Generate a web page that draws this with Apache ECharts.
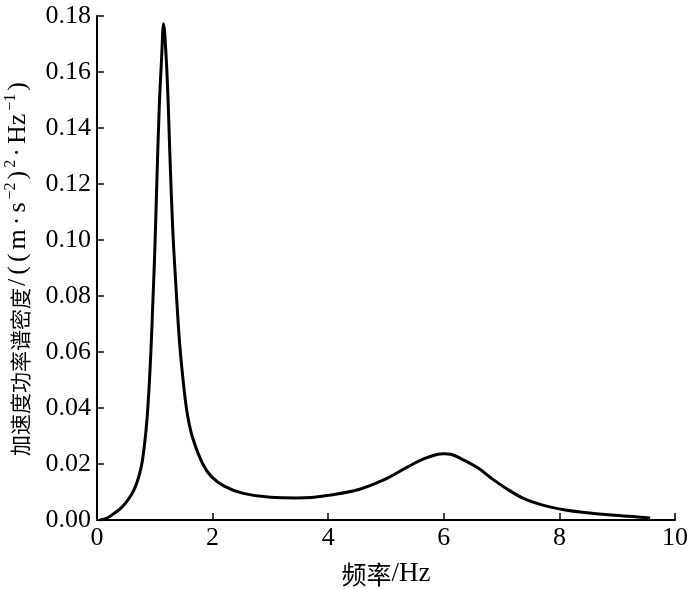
<!DOCTYPE html>
<html>
<head>
<meta charset="utf-8">
<script src="https://cdn.jsdelivr.net/npm/echarts@6/dist/echarts.min.js"></script>
<style>html,body{margin:0;padding:0;background:#fff}#c{width:700px;height:589px}</style>
</head>
<body>
<div id="c"></div>
<script>
// Frequency (Hz)
var freq = [0.05,0.10,0.20,0.30,0.40,0.50,0.60,0.67,0.73,0.78,0.825,0.865,0.90,0.934,0.969,1.003,1.04,1.078,1.118,1.152,1.20,1.233,1.26,1.31,1.37,1.43,1.51,1.57,1.66,1.83,1.98,2.20,2.53,3.00,3.45,3.70,4.00,4.50,4.96,5.36,5.65,5.88,6.00,6.12,6.29,6.60,6.85,7.10,7.35,7.60,7.85,8.10,8.40,8.90,9.40,9.57];
// Acceleration PSD
var psd = [0.0000,0.0002,0.0010,0.0024,0.0040,0.0062,0.0092,0.0122,0.0160,0.0205,0.0275,0.0360,0.0470,0.0610,0.0790,0.0980,0.1240,0.1480,0.1650,0.1772,0.1640,0.1480,0.1310,0.1040,0.0820,0.0630,0.0460,0.0370,0.0290,0.0200,0.0155,0.0121,0.0095,0.0081,0.0079,0.0080,0.0088,0.0107,0.0143,0.0188,0.0218,0.0234,0.0237,0.0235,0.0220,0.0185,0.0145,0.0110,0.0080,0.0060,0.0046,0.0036,0.0028,0.0018,0.0010,0.0007];
var xTicks = [0,2,4,6,8,10];
var yTicks = [0,0.02,0.04,0.06,0.08,0.10,0.12,0.14,0.16,0.18];

var serif = '"Liberation Serif","Times New Roman","Noto Sans CJK SC",serif';
var cjk = '"Noto Sans CJK SC",sans-serif';
var chart = echarts.init(document.getElementById('c'));
var pts = freq.map(function(f,i){return [f, psd[i]];});
var lat = {fontFamily:serif,fontSize:26,color:'#000',lineHeight:28,verticalAlign:'bottom',padding:[0,2,0,2]};
var sup = {fontFamily:serif,fontSize:16,color:'#000',lineHeight:28,verticalAlign:'top',padding:[0,1,0,1]};
chart.setOption({
  animation:false,
  grid:{left:97,right:25,top:16,bottom:69,containLabel:false,outerBoundsMode:'none'},
  xAxis:{
    type:'value',min:0,max:10,interval:2,
    name:'{c|频率}{a|/Hz}',nameLocation:'middle',nameGap:40,
    nameTextStyle:{fontFamily:serif,fontSize:24,color:'#000',
      rich:{c:{fontFamily:cjk,fontSize:25,color:'#000',lineHeight:28},
            a:{fontFamily:serif,fontSize:27,color:'#000',lineHeight:28}}},
    axisLine:{show:true,onZero:false,lineStyle:{color:'#000',width:2}},
    axisTick:{show:true,inside:true,length:7,lineStyle:{color:'#000',width:1.5}},
    axisLabel:{fontFamily:serif,fontSize:26,color:'#000',margin:5,
      formatter:function(v){return xTicks.indexOf(v)>=0?String(v):'';}},
    splitLine:{show:false}
  },
  yAxis:{
    type:'value',min:0,max:0.18,interval:0.02,
    name:'{c|加速度功率谱密度}{a|/}{a|(}{a|(}{a|m}{a|·}{a|s}{s|−2}{a|)}{s|2}{a|·}{a|Hz}{s|−1}{a|)}',
    nameLocation:'middle',nameRotate:90,nameGap:66,
    nameTextStyle:{fontFamily:serif,color:'#000',
      rich:{
        c:{fontFamily:cjk,fontSize:21,color:'#000',lineHeight:28,verticalAlign:'bottom'},
        a:lat,
        s:sup
      }},
    axisLine:{show:true,lineStyle:{color:'#000',width:2}},
    axisTick:{show:true,inside:true,length:7,lineStyle:{color:'#000',width:1.5}},
    axisLabel:{fontFamily:serif,fontSize:26,color:'#000',margin:6,
      formatter:function(v){return v.toFixed(2);}},
    splitLine:{show:false}
  },
  series:[{
    type:'line',data:pts,smooth:0.35,showSymbol:false,symbol:'none',
    lineStyle:{color:'#000',width:3},clip:false
  }]
});
</script>
</body>
</html>
